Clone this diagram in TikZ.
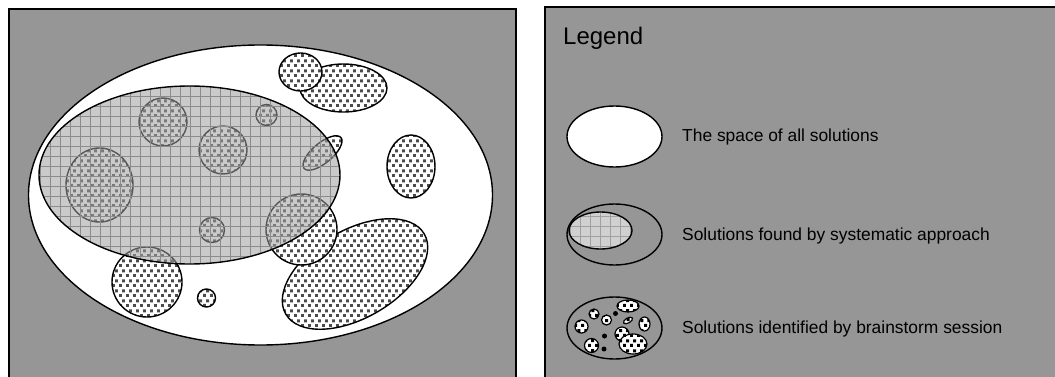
\documentclass[tikz,border=0pt]{standalone}
\usepackage{fontspec}
\setmainfont{Liberation Sans}
\usetikzlibrary{patterns}
\definecolor{panelgray}{RGB}{150,150,150}
\definecolor{foundgray}{RGB}{208,208,208}
\definecolor{gridgray}{RGB}{160,160,160}
\definecolor{seegray}{RGB}{160,160,160}
\definecolor{seegrid}{RGB}{140,140,140}
\definecolor{dotgray}{RGB}{75,75,75}
% staggered square dots for the brainstorm ideas
\pgfdeclarepatternformonly{ideadots}{\pgfpointorigin}{\pgfqpoint{7pt}{10pt}}{\pgfqpoint{7pt}{10pt}}{
  \pgfpathrectangle{\pgfqpoint{0pt}{0pt}}{\pgfqpoint{3.2pt}{3.2pt}}
  \pgfpathrectangle{\pgfqpoint{3.5pt}{5pt}}{\pgfqpoint{3.2pt}{3.2pt}}
  \pgfusepath{fill}}
% fine grid for the systematic approach
\pgfdeclarepatternformonly{findgrid}{\pgfqpoint{-1pt}{-1pt}}{\pgfqpoint{10pt}{10pt}}{\pgfqpoint{10pt}{10pt}}{
  \pgfsetlinewidth{0.6pt}
  \pgfpathmoveto{\pgfqpoint{0pt}{0pt}}\pgfpathlineto{\pgfqpoint{10pt}{0pt}}
  \pgfpathmoveto{\pgfqpoint{0pt}{0pt}}\pgfpathlineto{\pgfqpoint{0pt}{10pt}}
  \pgfusepath{stroke}}
\tikzset{panel/.style={draw=black,line width=1.6pt,fill=panelgray},
  space/.style={draw=black,line width=1.4pt,fill=white},
  idea/.style={draw=black,line width=1.4pt,preaction={fill=white},pattern=ideadots,pattern color=dotgray},
  found/.style={draw=black,line width=1.4pt,preaction={fill=foundgray},pattern=findgrid,pattern color=gridgray},
  mini/.style={idea,line width=1.2pt,pattern color=black},
  dot/.style={fill=black},
  legtext/.style={anchor=base west,inner sep=0pt,font=\fontsize{17.4}{20}\selectfont}}

\begin{document}
\begin{tikzpicture}[x=1pt,y=1pt]
\clip (0,0) rectangle (1055,376);
\fill[white] (0,0) rectangle (1055,376);
\draw[panel] (9,367) rectangle (516,-20);
\draw[panel] (545,369) rectangle (1075,-20);

% solution space
\draw[space] (260.5,181) ellipse [x radius=232,y radius=150];
\draw[idea] (343.5,288) ellipse [x radius=43.5,y radius=24];
\draw[idea] (300.5,304) ellipse [x radius=21.5,y radius=19];
\foreach \x/\y/\r in {163/254/24,266.5/261/10.5,223/226/24,212/146/12.5,147/94/35,206.5/78/9}
  \draw[idea] (\x,\y) circle [radius=\r];
\draw[idea] (99.5,191) ellipse [x radius=33.5,y radius=37];
\draw[idea,rotate around={40:(322.5,223)}] (322.5,223) ellipse [x radius=24,y radius=10];
\draw[idea] (411,209.5) ellipse [x radius=24,y radius=31.5];
\draw[idea,rotate around={30:(355,102)}] (355,102) ellipse [x radius=80,y radius=44];
\draw[idea] (301.5,146.5) circle [radius=35.5];
% systematic area, see-through
\fill[seegray,fill opacity=0.55] (189.5,201) ellipse [x radius=150.5,y radius=89];
\fill[pattern=findgrid,pattern color=seegrid,fill opacity=0.55] (189.5,201) ellipse [x radius=150.5,y radius=89];
\draw[line width=1.4pt] (189.5,201) ellipse [x radius=150.5,y radius=89];

% legend
\node[legtext,font=\fontsize{24}{28}\selectfont] (legend) at (563,331.5) {Legend};

\draw[space] (614.5,239.5) ellipse [x radius=47.5,y radius=30.5];
\node[legtext] (allsol) at (682,234.3) {The space of all solutions};

\draw[line width=1.4pt] (614.5,141.5) ellipse [x radius=47.5,y radius=30.5];
\draw[found] (600.5,145.5) ellipse [x radius=31.5,y radius=18.5];
\node[legtext] (syssol) at (682,136) {Solutions found by systematic approach};

\draw[line width=1.4pt] (614.5,48) ellipse [x radius=47.5,y radius=31];
\draw[mini] (628,70) ellipse [x radius=11,y radius=6];
\foreach \x/\y/\r in {594/62/5,606.5/56/5,581.5/49.5/6.5,622/42/7,591.5/30.5/7}
  \draw[mini] (\x,\y) circle [radius=\r];
\draw[mini,rotate around={30:(628,55.5)}] (628,55.5) ellipse [x radius=5,y radius=2.5];
\draw[mini] (644.5,52) ellipse [x radius=5.5,y radius=7];
\draw[mini] (633,32) ellipse [x radius=14,y radius=10];
\foreach \x/\y in {615.5/62.5,604.5/40,604/27}
  \fill[dot] (\x,\y) circle [radius=2.5];
\node[legtext] (brainsol) at (682,42.7) {Solutions identified by brainstorm session};
\end{tikzpicture}
\end{document}
